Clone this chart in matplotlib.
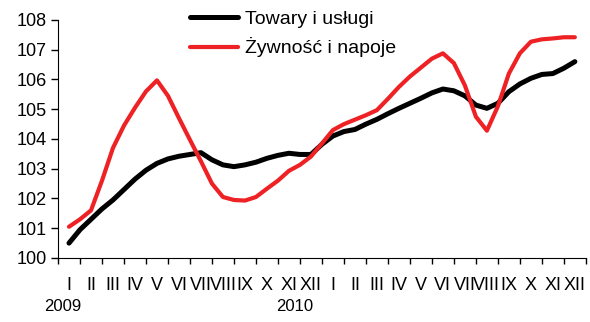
import numpy as np
import matplotlib
matplotlib.use('Agg')
import matplotlib.pyplot as plt

# dane co pół miesiąca, styczeń 2009 - grudzień 2010
towary = [100.5, 100.95, 101.3, 101.65, 101.95, 102.3, 102.65, 102.95,
          103.18, 103.33, 103.42, 103.48, 103.54, 103.3, 103.13, 103.07,
          103.13, 103.22, 103.35, 103.45, 103.52, 103.48, 103.48, 103.82,
          104.1, 104.25, 104.32, 104.5, 104.66, 104.85, 105.03, 105.2,
          105.37, 105.55, 105.68, 105.62, 105.45, 105.14, 105.03, 105.2,
          105.59, 105.85, 106.04, 106.17, 106.2, 106.38, 106.6]
zywnosc = [101.05, 101.3, 101.6, 102.6, 103.7, 104.45, 105.05, 105.6,
           105.97, 105.45, 104.7, 103.97, 103.25, 102.5, 102.05, 101.95,
           101.93, 102.05, 102.33, 102.6, 102.93, 103.13, 103.41, 103.85,
           104.3, 104.5, 104.65, 104.8, 104.97, 105.35, 105.75, 106.1,
           106.4, 106.7, 106.88, 106.55, 105.8, 104.75, 104.28, 105.1,
           106.2, 106.88, 107.27, 107.35, 107.38, 107.42, 107.42]
miesiace = ['I', 'II', 'III', 'IV', 'V', 'VI', 'VII', 'VIII', 'IX', 'X', 'XI', 'XII'] * 2
lata = ['2009', '2010']

plt.rcParams['font.family'] = ['Liberation Sans', 'DejaVu Sans']

def main():
    t = np.arange(len(towary)) / 2
    fig = plt.figure(figsize=(5.9, 3.22), dpi=100)
    ax = fig.add_axes([0.0983, 0.1988, 0.8947, 0.7391])

    ax.plot(t, towary, color='black', lw=3.6, label='Towary i usługi',
            solid_capstyle='round', solid_joinstyle='round')
    ax.plot(t, zywnosc, color='#ee2124', lw=3.0, label='Żywność i napoje',
            solid_capstyle='round', solid_joinstyle='round')

    ax.set_xlim(-0.5, 23.5)
    ax.set_ylim(100, 108)
    ax.set_yticks(range(100, 109))
    ax.tick_params(axis='y', labelsize=13, length=5, width=1, pad=3)

    ax.set_xticks(np.arange(-0.5, 24, 1))
    ax.set_xticklabels([])
    ax.set_xticks(np.arange(24), minor=True)
    ax.set_xticklabels(miesiace, minor=True)
    ax.tick_params(axis='x', which='major', length=4, width=1)
    ax.tick_params(axis='x', which='minor', length=0, labelsize=13, pad=14)

    ax.spines['right'].set_color('none')
    ax.spines['top'].set_color('none')

    ax.text(-0.27, -0.205, lata[0], transform=ax.get_xaxis_transform(),
            ha='center', va='center', fontsize=12)
    ax.text(10.27, -0.205, lata[1], transform=ax.get_xaxis_transform(),
            ha='center', va='center', fontsize=12)

    ax.legend(loc='upper left', bbox_to_anchor=(0.235, 1.074), frameon=False,
              fontsize=14, handlelength=2.5, handletextpad=0.35,
              labelspacing=0.5, borderaxespad=0)

    fig.savefig('out.png', dpi=100)

if __name__ == '__main__':
    main()
